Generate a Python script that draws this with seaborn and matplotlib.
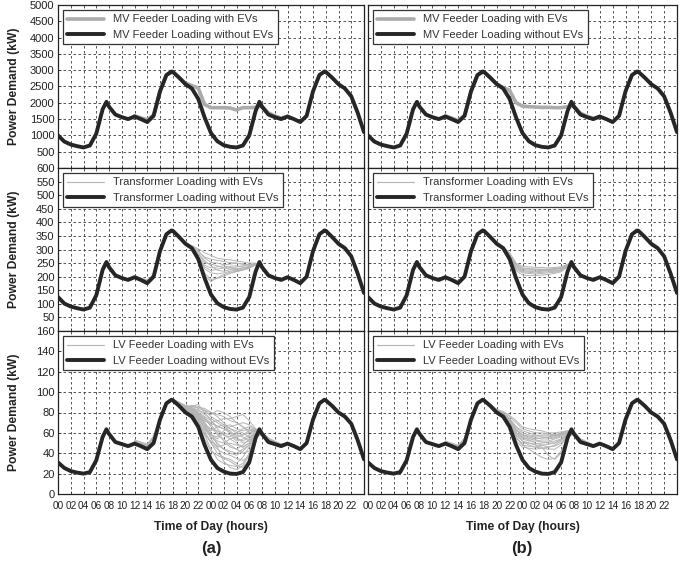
import matplotlib
matplotlib.use("Agg")
import matplotlib.pyplot as plt
import numpy as np
import pandas as pd
import seaborn as sns
from matplotlib.lines import Line2D

# ---------------- data ----------------
hours = [0, 1, 2, 3, 4, 5, 6, 7, 7.6, 8, 9, 10, 11, 12, 13, 14, 15, 16, 17, 17.8,
         18, 19, 20, 21, 22, 23, 24, 25, 26, 27, 28, 29, 30, 31, 31.6, 32, 33, 34,
         35, 36, 37, 38, 39, 40, 41, 41.8, 42, 43, 44, 45, 46, 47, 48]

mv_base = [1000, 810, 720, 670, 630, 690, 1050, 1800, 2030, 1880, 1640, 1560, 1500, 1580,
           1500, 1410, 1600, 2350, 2850, 2960, 2950, 2770, 2570, 2440, 2120, 1550, 1070,
           820, 700, 650, 630, 690, 1000, 1750, 2030, 1880, 1640, 1560, 1500, 1580, 1500,
           1410, 1600, 2350, 2850, 2960, 2950, 2770, 2570, 2440, 2200, 1700, 1100]

tr_base = [125, 101, 90, 84, 79, 86, 131, 225, 254, 235, 205, 195, 188, 198, 188, 176,
           200, 294, 356, 370, 369, 346, 321, 305, 265, 194, 134, 102, 88, 81, 79, 86,
           125, 219, 254, 235, 205, 195, 188, 198, 188, 176, 200, 294, 356, 370, 369,
           346, 321, 305, 275, 212, 140]

lv_base = [31, 25.5, 22.5, 21, 20, 21.5, 33, 56, 63.5, 59, 51, 49, 47, 49.5, 47, 44, 50,
           73, 89, 92.5, 92, 86.5, 80, 76, 66, 48, 33.5, 25.5, 22, 20, 19.7, 21.5, 31, 55,
           63.5, 59, 51, 49, 47, 49.5, 47, 44, 50, 73, 89, 92.5, 92, 86.5, 80, 76, 69, 53, 34]

# hours covered by the "with EVs" traces (elsewhere they coincide with the base load)
ev_hours = list(range(12, 37))

mv_ev_a = [1600, 1540, 1480, 1620, 2350, 2850, 2950, 2780, 2600, 2530, 2450, 1950, 1850,
           1850, 1850, 1840, 1780, 1850, 1850, 1860, 1900, 1690, 1600, 1530, 1580]
mv_ev_b = [1600, 1530, 1460, 1610, 2350, 2850, 2950, 2770, 2580, 2470, 2380, 2000, 1900,
           1880, 1870, 1860, 1860, 1850, 1850, 1880, 1900, 1680, 1590, 1520, 1580]

tr_ev_a = [
    [200, 192, 184, 205, 295, 356, 369, 348, 325, 312, 292, 272, 264, 260, 256, 252, 250, 246, 242, 246, 240, 207, 197, 190, 198],
    [205, 195, 188, 208, 297, 357, 369, 347, 322, 306, 276, 242, 232, 236, 240, 234, 230, 232, 236, 242, 240, 208, 198, 190, 198],
    [198, 190, 180, 203, 295, 356, 369, 349, 326, 314, 302, 288, 278, 268, 264, 262, 258, 254, 250, 250, 241, 208, 199, 191, 198],
    [200, 191, 182, 204, 295, 356, 369, 347, 322, 306, 262, 212, 190, 194, 202, 212, 218, 224, 230, 246, 240, 207, 197, 190, 198],
    [198, 189, 179, 202, 294, 356, 369, 348, 324, 309, 284, 252, 246, 240, 232, 228, 226, 232, 238, 244, 239, 206, 196, 189, 198],
    [202, 193, 186, 206, 296, 356, 369, 347, 321, 305, 270, 204, 182, 196, 208, 216, 220, 226, 232, 244, 240, 208, 198, 191, 198],
    [198, 190, 180, 202, 295, 356, 369, 349, 324, 312, 296, 268, 252, 250, 244, 246, 250, 246, 242, 248, 240, 207, 197, 190, 198],
    [199, 190, 181, 203, 294, 356, 369, 347, 322, 306, 268, 228, 214, 210, 214, 220, 224, 228, 232, 244, 239, 206, 196, 189, 198],
    [200, 192, 183, 204, 295, 356, 369, 348, 323, 310, 286, 258, 240, 224, 220, 226, 236, 240, 244, 248, 240, 207, 197, 190, 198],
    [198, 189, 180, 202, 294, 356, 369, 347, 321, 305, 275, 236, 222, 228, 232, 238, 240, 236, 234, 243, 239, 206, 196, 189, 198],
]

tr_ev_b = [
    [199, 190, 181, 202, 294, 356, 369, 347, 322, 307, 284, 246, 232, 230, 228, 228, 226, 228, 232, 242, 240, 207, 197, 190, 198],
    [200, 192, 184, 204, 295, 356, 369, 348, 323, 308, 280, 236, 222, 220, 218, 220, 222, 222, 226, 240, 240, 208, 198, 190, 198],
    [198, 189, 180, 202, 294, 356, 369, 347, 321, 305, 274, 228, 214, 212, 210, 212, 214, 216, 222, 238, 239, 206, 196, 189, 198],
    [201, 192, 183, 204, 295, 356, 369, 348, 324, 310, 288, 250, 238, 236, 234, 234, 232, 234, 236, 246, 240, 207, 197, 190, 198],
    [198, 190, 180, 202, 294, 356, 369, 347, 321, 305, 270, 222, 206, 204, 204, 206, 208, 212, 218, 236, 239, 206, 196, 189, 198],
    [200, 191, 182, 203, 294, 356, 369, 348, 323, 308, 282, 240, 226, 224, 224, 222, 224, 226, 230, 242, 240, 208, 198, 190, 198],
    [199, 190, 181, 202, 294, 356, 369, 347, 322, 306, 278, 232, 218, 216, 214, 216, 218, 220, 224, 240, 239, 207, 197, 190, 198],
    [202, 193, 185, 205, 296, 356, 369, 348, 324, 309, 286, 244, 230, 228, 226, 226, 228, 230, 234, 244, 240, 207, 197, 190, 198],
]

lv_ev_a = [
    [51, 49, 47, 54, 73, 89, 92, 88, 85, 86, 84, 82, 80, 78, 76, 72, 70, 66, 62, 62, 60, 53, 50, 48, 49.5],
    [50, 48, 46, 52, 74, 90, 93, 90, 84, 82, 76, 64, 56, 52, 50, 54, 56, 58, 60, 63, 61, 54, 51, 48, 50],
    [52, 50, 48, 56, 75, 89, 92, 87, 83, 86, 88, 80, 72, 66, 64, 62, 56, 50, 52, 60, 60, 52, 50, 48, 49.5],
    [49.5, 48, 45, 51, 73, 89, 92, 87, 81, 77, 70, 54, 42, 38, 35, 32, 28, 26, 34, 56, 59, 51, 49, 47, 49.5],
    [53, 51, 49, 57, 76, 90, 93, 88, 82, 80, 78, 70, 60, 48, 44, 42, 40, 44, 48, 58, 60, 54, 51, 49, 50],
    [50, 48, 46, 52, 73, 89, 93, 90, 87, 86, 85, 84, 80, 76, 70, 64, 60, 58, 62, 64, 61, 55, 52, 49, 50],
    [49.5, 47, 44, 50, 73, 89, 92, 87, 83, 81, 76, 68, 64, 62, 58, 54, 50, 46, 50, 59, 60, 52, 50, 47, 49.5],
    [51, 49, 47, 55, 74, 89, 92, 88, 81, 77, 70, 58, 52, 46, 32, 26, 24, 28, 38, 55, 59, 52, 49, 47, 49.5],
    [50, 48, 46, 52, 73, 89, 92, 89, 85, 83, 78, 74, 70, 72, 74, 74, 76, 78, 72, 64, 60, 54, 50, 48, 49.5],
    [49.5, 47, 45, 50, 73, 89, 92, 88, 84, 82, 79, 75, 66, 58, 54, 48, 44, 40, 42, 57, 59, 52, 50, 48, 49.5],
    [50, 48, 46, 53, 74, 89, 93, 90, 86, 80, 71, 62, 50, 44, 40, 38, 35, 33, 37, 56, 60, 53, 50, 47, 49.5],
    [49.5, 47, 45, 51, 73, 89, 92, 88, 82, 79, 75, 72, 68, 60, 52, 46, 44, 48, 54, 61, 61, 54, 51, 48, 49.5],
    [50, 48, 47, 54, 75, 89, 93, 89, 86, 84, 82, 80, 78, 82, 80, 76, 70, 66, 60, 62, 60, 53, 50, 48, 49.5],
    [49.5, 47, 45, 50, 73, 89, 92, 87, 81, 77, 70, 58, 44, 34, 30, 28, 27, 30, 40, 56, 59, 51, 49, 47, 49.5],
    [51, 49, 46, 52, 73, 89, 92, 88, 83, 84, 80, 70, 62, 66, 68, 64, 62, 60, 56, 60, 60, 53, 50, 48, 49.5],
    [50, 48, 45, 51, 73, 89, 92, 87, 82, 78, 73, 66, 58, 54, 60, 58, 52, 54, 58, 62, 60, 52, 50, 47, 49.5],
    [50, 48, 46, 52, 73, 89, 92, 88, 84, 85, 82, 78, 74, 70, 66, 68, 64, 62, 64, 62, 60, 53, 50, 48, 49.5],
    [51, 49, 47, 53, 74, 89, 93, 89, 86, 80, 74, 66, 54, 46, 48, 50, 48, 46, 50, 58, 60, 53, 50, 48, 49.5],
    [49.5, 47, 45, 51, 73, 89, 92, 88, 83, 83, 80, 76, 72, 64, 58, 56, 60, 64, 66, 63, 60, 53, 50, 48, 49.5],
    [50, 48, 46, 52, 74, 89, 92, 88, 85, 87, 86, 82, 76, 72, 68, 60, 54, 52, 56, 60, 60, 53, 50, 47, 49.5],
    [49.5, 47, 45, 50, 73, 89, 92, 87, 81, 78, 72, 60, 50, 40, 36, 34, 30, 36, 46, 56, 59, 52, 49, 47, 49.5],
    [52, 50, 48, 55, 75, 89, 92, 88, 84, 81, 77, 73, 69, 67, 64, 60, 58, 56, 52, 58, 60, 53, 50, 48, 49.5],
    [50, 48, 46, 51, 73, 89, 92, 88, 82, 84, 80, 68, 58, 56, 62, 66, 68, 70, 68, 63, 60, 53, 50, 48, 49.5],
    [49.5, 47, 45, 50, 73, 89, 92, 87, 82, 79, 74, 64, 56, 50, 44, 40, 38, 42, 48, 57, 59, 52, 49, 47, 49.5],
]

lv_ev_b = [
    [50, 48, 46, 51, 73, 89, 92, 87, 81, 78, 72, 62, 58, 57, 56, 56, 55, 56, 58, 60, 60, 53, 50, 48, 49.5],
    [51, 49, 47, 53, 74, 89, 92, 88, 82, 79, 74, 66, 60, 58, 57, 58, 58, 57, 59, 61, 60, 54, 51, 48, 50],
    [49.5, 47, 45, 50, 73, 89, 92, 87, 80, 77, 68, 54, 50, 50, 49, 50, 51, 52, 54, 59, 59, 52, 50, 47, 49.5],
    [50, 48, 46, 52, 73, 89, 92, 88, 83, 80, 76, 70, 64, 62, 60, 60, 59, 58, 60, 62, 61, 54, 51, 48, 50],
    [49.5, 47, 45, 50, 73, 89, 92, 87, 80, 76, 67, 52, 46, 45, 44, 45, 46, 48, 52, 58, 59, 52, 49, 47, 49.5],
    [52, 50, 48, 55, 75, 89, 92, 87, 81, 78, 70, 58, 52, 50, 48, 46, 38, 34, 40, 56, 60, 53, 50, 48, 49.5],
    [50, 48, 46, 51, 73, 89, 92, 88, 82, 79, 72, 60, 55, 54, 53, 52, 52, 54, 56, 60, 60, 53, 50, 48, 49.5],
    [49.5, 47, 45, 50, 73, 89, 92, 87, 80, 76, 68, 56, 48, 47, 46, 45, 44, 44, 48, 57, 59, 52, 49, 47, 49.5],
    [51, 49, 47, 53, 74, 89, 92, 88, 82, 78, 73, 64, 58, 56, 54, 55, 56, 57, 58, 61, 60, 54, 51, 48, 50],
    [50, 48, 46, 52, 73, 89, 92, 87, 81, 77, 69, 56, 48, 44, 40, 36, 34, 35, 42, 56, 59, 52, 50, 47, 49.5],
    [50, 48, 46, 51, 73, 89, 92, 88, 82, 79, 74, 66, 62, 60, 58, 57, 57, 58, 59, 61, 60, 53, 50, 48, 49.5],
    [49.5, 47, 45, 50, 73, 89, 92, 87, 81, 78, 70, 60, 54, 52, 52, 51, 50, 50, 54, 59, 60, 52, 50, 47, 49.5],
    [50, 48, 46, 52, 73, 89, 92, 88, 82, 79, 73, 63, 57, 55, 55, 54, 54, 55, 57, 60, 60, 53, 50, 48, 49.5],
    [49.5, 47, 45, 50, 73, 89, 92, 87, 81, 77, 70, 58, 52, 48, 46, 48, 49, 50, 53, 58, 59, 52, 50, 47, 49.5],
    [51, 49, 47, 53, 74, 89, 92, 88, 83, 81, 77, 72, 66, 64, 63, 62, 60, 60, 61, 62, 61, 54, 51, 48, 50],
    [50, 48, 46, 51, 73, 89, 92, 87, 81, 78, 71, 60, 56, 53, 50, 48, 46, 47, 50, 57, 59, 52, 50, 47, 49.5],
]

row_names = ["MV Feeder", "Transformer", "LV Feeder"]
xtick_hours = list(range(0, 48, 2))
xtick_labels = [f"{h % 24:02d}" for h in xtick_hours]

# ---------------- style ----------------
sns.set_theme(style="white")
plt.rcParams["font.family"] = ["Liberation Sans", "DejaVu Sans"]

W, H = 685, 566
fig = plt.figure(figsize=(W / 100, H / 100), dpi=100)


def rect(x0, y0, x1, y1):
    return [x0 / W, 1 - y1 / H, (x1 - x0) / W, (y1 - y0) / H]


cols = [(58, 364), (368, 677)]
rows = [(5, 168), (168, 331), (331, 494)]

BLACK = "#262626"
GREY = "#ababab"
THIN = "#b4b4b4"

panels = [
    dict(base=mv_base, ev=[mv_ev_a, mv_ev_b], thick=True, ylim=(0, 5000),
         yticks=list(range(500, 5001, 500))),
    dict(base=tr_base, ev=[tr_ev_a, tr_ev_b], thick=False, ylim=(0, 600),
         yticks=list(range(50, 601, 50))),
    dict(base=lv_base, ev=[lv_ev_a, lv_ev_b], thick=False, ylim=(0, 160),
         yticks=list(range(0, 161, 20))),
]

for r, (p, (y0, y1)) in enumerate(zip(panels, rows)):
    for c, (x0, x1) in enumerate(cols):
        ax = fig.add_axes(rect(x0, y0, x1, y1))
        ev = p["ev"][c]
        if p["thick"]:
            sns.lineplot(x=ev_hours, y=ev, color=GREY, lw=2.6, ax=ax)
        else:
            df_ev = pd.DataFrame({
                "hour": [h for tr in ev for h in ev_hours],
                "kW": [v for tr in ev for v in tr],
                "trace": [i for i, tr in enumerate(ev) for _ in ev_hours],
            })
            sns.lineplot(data=df_ev, x="hour", y="kW", units="trace", estimator=None,
                         color=THIN, lw=0.7, ax=ax, legend=False)
        df_b = pd.DataFrame({"hour": hours, "kW": p["base"]})
        sns.lineplot(data=df_b, x="hour", y="kW", color=BLACK, lw=2.8, ax=ax)

        ax.set_xlim(0, 48)
        ax.set_ylim(*p["ylim"])
        ax.set_xticks(xtick_hours)
        ax.set_xticklabels(xtick_labels)
        ax.set_yticks(p["yticks"])
        ax.grid(True, linestyle=(0, (3, 3)), color="#3a3a3a", lw=0.6)
        ax.tick_params(direction="in", length=2.5, width=0.6, color="#333",
                       labelsize=8, pad=2.5, left=True, bottom=True, labelcolor="#222")
        ax.tick_params(axis="x", labelsize=7.2, pad=5)
        for s in ax.spines.values():
            s.set_color("#222")
            s.set_linewidth(0.9)

        if r < 2:
            ax.tick_params(labelbottom=False)
            ax.set_xlabel("")
        else:
            ax.set_xlabel("Time of Day (hours)", fontsize=8.7, fontweight="bold",
                          color="#222")
            ax.xaxis.set_label_coords(0.5, -0.165)
        if c == 1:
            ax.tick_params(labelleft=False)
            ax.set_ylabel("")
        else:
            ax.set_ylabel("Power Demand (kW)", fontsize=8.7, fontweight="bold",
                          color="#222")
            ax.yaxis.set_label_coords(-0.125, 0.5)

        name = row_names[r]
        handles = [Line2D([], [], color=GREY if p["thick"] else THIN,
                          lw=2.6 if p["thick"] else 0.8),
                   Line2D([], [], color=BLACK, lw=2.8)]
        labels = [f"{name} Loading with EVs", f"{name} Loading without EVs"]
        leg = ax.legend(handles, labels, loc="upper left", fontsize=8, frameon=True,
                        fancybox=False, framealpha=1, edgecolor="#333",
                        handlelength=3.3, handletextpad=0.8, borderpad=0.4,
                        labelspacing=0.5, borderaxespad=0.45)
        leg.get_frame().set_linewidth(0.9)
        for t in leg.get_texts():
            t.set_color("#333")

fig.text(211 / W, 1 - 548 / H, "(a)", ha="center", va="center", fontsize=12,
         fontweight="bold", color="#222")
fig.text(522 / W, 1 - 548 / H, "(b)", ha="center", va="center", fontsize=12,
         fontweight="bold", color="#222")

fig.savefig("out.png", dpi=100)
